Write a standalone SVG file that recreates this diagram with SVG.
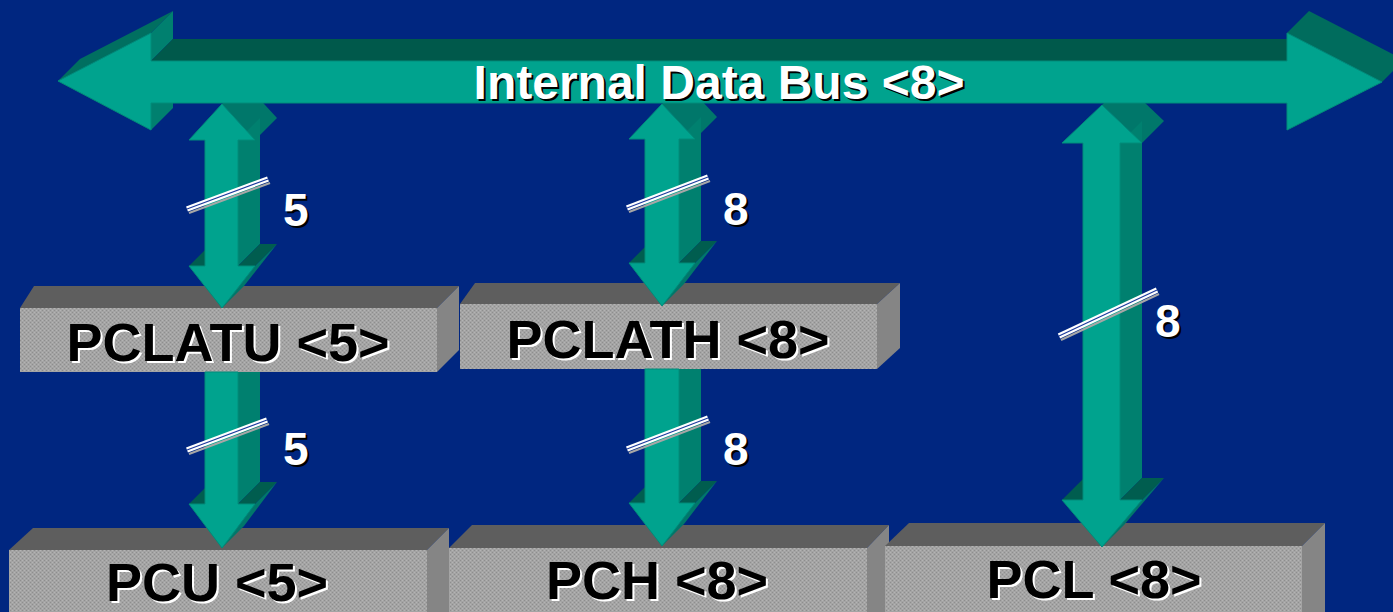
<svg xmlns="http://www.w3.org/2000/svg" width="1393" height="612" viewBox="0 0 1393 612">
  <defs>
    <!-- fine dither texture for the register box fronts -->
    <pattern id="grain" width="4" height="4" patternUnits="userSpaceOnUse">
      <rect width="4" height="4" fill="#a4a4a4"/>
      <rect x="0" y="0" width="1" height="1" fill="#8e8e8e"/>
      <rect x="2" y="2" width="1" height="1" fill="#8e8e8e"/>
      <rect x="2" y="0" width="1" height="1" fill="#b4b4b4"/>
      <rect x="0" y="2" width="1" height="1" fill="#b4b4b4"/>
    </pattern>
    <style>
      .face  { fill: #00a38e; stroke: #008c7a; stroke-width: 1; stroke-linejoin: round; }
      .slant { fill: #00776a; }
      .side  { fill: #00806f; }
      .wing  { fill: #005d4f; }
      .btop  { fill: #00594b; }
      .bfront { fill: url(#grain); }
      .btopf { fill: #5e5e5e; }
      .bside { fill: #858585; }
      .reg   { font-family: "Liberation Sans", Arial, sans-serif; font-weight: bold; font-size: 54px; text-anchor: middle; }
      .reg-sh { fill: #ffffff; }
      .reg-tx { fill: #000000; }
      .lbl   { font-family: "Liberation Sans", Arial, sans-serif; font-weight: bold; font-size: 46px; }
      .bus   { font-family: "Liberation Sans", Arial, sans-serif; font-weight: bold; font-size: 48px; text-anchor: middle; }
      .sh    { fill: #000000; }
      .tx    { fill: #ffffff; }
      .sl-g  { stroke: #a6a6a6; stroke-width: 2.2; }
      .sl-w  { stroke: #ffffff; stroke-width: 5.5; }
      .sl-b  { stroke: #1c3a9c; stroke-width: 1.2; }
    </style>
  </defs>

  <rect width="1393" height="612" fill="#002680"/>

  <!-- register boxes -->
  <g id="pcu">
    <polygon class="btopf" points="9,550 427,550 449,528 33,528"/>
    <polygon class="bside" points="427,550 449,528 449,612 427,612"/>
    <rect class="bfront" x="9" y="550" width="418" height="62"/>
    <text class="reg reg-sh" x="219" y="603">PCU &lt;5&gt;</text>
    <text class="reg reg-tx" x="217" y="601">PCU &lt;5&gt;</text>
  </g>
  <g id="pch">
    <polygon class="btopf" points="449,548 867,548 889,525 472,525"/>
    <polygon class="bside" points="867,548 889,525 889,612 867,612"/>
    <rect class="bfront" x="449" y="548" width="418" height="64"/>
    <text class="reg reg-sh" x="659" y="601">PCH &lt;8&gt;</text>
    <text class="reg reg-tx" x="657" y="599">PCH &lt;8&gt;</text>
  </g>
  <g id="pcl">
    <polygon class="btopf" points="885,546 1302,546 1325,523 909,523"/>
    <polygon class="bside" points="1302,546 1325,523 1325,612 1302,612"/>
    <rect class="bfront" x="885" y="546" width="417" height="66"/>
    <text class="reg reg-sh" x="1096" y="600">PCL &lt;8&gt;</text>
    <text class="reg reg-tx" x="1094" y="598">PCL &lt;8&gt;</text>
  </g>
  <g id="pclatu">
    <polygon class="btopf" points="20,308 437,308 459,286 34,286"/>
    <polygon class="bside" points="437,308 459,286 459,350 437,372"/>
    <rect class="bfront" x="20" y="308" width="417" height="64"/>
    <text class="reg reg-sh" x="230" y="363">PCLATU &lt;5&gt;</text>
    <text class="reg reg-tx" x="228" y="361">PCLATU &lt;5&gt;</text>
  </g>
  <g id="pclath">
    <polygon class="btopf" points="460,304 877,304 900,283 475,283"/>
    <polygon class="bside" points="877,304 900,283 900,348 877,369"/>
    <rect class="bfront" x="460" y="304" width="417" height="65"/>
    <text class="reg reg-sh" x="670" y="360">PCLATH &lt;8&gt;</text>
    <text class="reg reg-tx" x="668" y="358">PCLATH &lt;8&gt;</text>
  </g>

  <!-- connectors: extruded block arrows with bus-width marks -->
  <g id="connectors">
    <!-- PCLATU to PCU -->
    <g id="c-pclatu-pcu">
      <polygon class="side" points="238,372 238,504 260,482 260,372"/>
      <polygon class="wing" points="238,504 255,504 277,482 260,482"/>
      <polygon class="slant" points="255,504 222,548 244,526 277,482"/>
      <polygon class="wing" points="189,504 205,504 227,482 211,482"/>
      <path class="face" d="M205,372 L238,372 L238,504 L255,504 L222,548 L189,504 L205,504 Z"/>
    </g>
    <!-- PCLATH to PCH -->
    <g id="c-pclath-pch">
      <polygon class="side" points="679,369 679,503 701,481 701,369"/>
      <polygon class="wing" points="679,503 695,503 717,481 701,481"/>
      <polygon class="slant" points="695,503 662,546 684,524 717,481"/>
      <polygon class="wing" points="629,503 645,503 667,481 651,481"/>
      <path class="face" d="M645,369 L679,369 L679,503 L695,503 L662,546 L629,503 L645,503 Z"/>
    </g>
    <!-- bus to PCLATU -->
    <g id="c-bus-pclatu">
      <polygon class="slant" points="222,104 255,140 277,118 244,82"/>
      <polygon class="side" points="238,140 238,266 260,244 260,118"/>
      <polygon class="wing" points="238,266 255,266 277,244 260,244"/>
      <polygon class="slant" points="255,266 222,308 244,286 277,244"/>
      <polygon class="wing" points="189,266 205,266 227,244 211,244"/>
      <path class="face" d="M222,104 L255,140 L238,140 L238,266 L255,266 L222,308 L189,266 L205,266 L205,140 L189,140 Z"/>
    </g>
    <!-- bus to PCLATH -->
    <g id="c-bus-pclath">
      <polygon class="slant" points="662,104 695,139 717,117 684,82"/>
      <polygon class="side" points="679,139 679,263 701,241 701,117"/>
      <polygon class="wing" points="679,263 695,263 717,241 701,241"/>
      <polygon class="slant" points="695,263 662,306 684,284 717,241"/>
      <polygon class="wing" points="629,263 645,263 667,241 651,241"/>
      <path class="face" d="M662,104 L695,139 L679,139 L679,263 L695,263 L662,306 L629,263 L645,263 L645,139 L629,139 Z"/>
    </g>
    <!-- bus to PCL -->
    <g id="c-bus-pcl">
      <polygon class="slant" points="1102,105 1142,143 1164,121 1124,83"/>
      <polygon class="side" points="1120,143 1120,500 1142,478 1142,121"/>
      <polygon class="wing" points="1120,500 1142,500 1164,478 1142,478"/>
      <polygon class="slant" points="1142,500 1102,547 1124,525 1164,478"/>
      <polygon class="wing" points="1062,500 1083,500 1105,478 1084,478"/>
      <path class="face" d="M1102,105 L1142,143 L1120,143 L1120,500 L1142,500 L1102,547 L1062,500 L1083,500 L1083,143 L1062,143 Z"/>
    </g>

    <!-- width marks -->
    <g id="marks">
      <line class="sl-g" x1="189" y1="213" x2="270" y2="183"/>
      <line class="sl-w" x1="187" y1="209" x2="268" y2="179"/>
      <line class="sl-b" x1="187" y1="209" x2="268" y2="179"/>

      <line class="sl-g" x1="629" y1="212" x2="710" y2="181"/>
      <line class="sl-w" x1="627" y1="208" x2="708" y2="177"/>
      <line class="sl-b" x1="627" y1="208" x2="708" y2="177"/>

      <line class="sl-g" x1="1061" y1="340" x2="1159" y2="294"/>
      <line class="sl-w" x1="1059" y1="336" x2="1157" y2="290"/>
      <line class="sl-b" x1="1059" y1="336" x2="1157" y2="290"/>

      <line class="sl-g" x1="189" y1="454" x2="269" y2="424"/>
      <line class="sl-w" x1="187" y1="450" x2="267" y2="420"/>
      <line class="sl-b" x1="187" y1="450" x2="267" y2="420"/>

      <line class="sl-g" x1="629" y1="453" x2="710" y2="422"/>
      <line class="sl-w" x1="627" y1="449" x2="708" y2="418"/>
      <line class="sl-b" x1="627" y1="449" x2="708" y2="418"/>
    </g>
    <g id="widths">
      <text class="lbl sh" x="285" y="228">5</text>
      <text class="lbl tx" x="283" y="226">5</text>
      <text class="lbl sh" x="725" y="227">8</text>
      <text class="lbl tx" x="723" y="225">8</text>
      <text class="lbl sh" x="1157" y="339">8</text>
      <text class="lbl tx" x="1155" y="337">8</text>
      <text class="lbl sh" x="285" y="467">5</text>
      <text class="lbl tx" x="283" y="465">5</text>
      <text class="lbl sh" x="725" y="467">8</text>
      <text class="lbl tx" x="723" y="465">8</text>
    </g>
  </g>

  <!-- internal data bus: double-headed extruded arrow -->
  <g id="data-bus">
    <polygon fill="#006f60" points="58,81 151,33 173,11 80,59"/>
    <polygon class="side" points="151,33 173,11 173,39 151,61"/>
    <polygon class="btop" points="151,61 1287,61 1309,39 173,39"/>
    <polygon class="side" points="151,103 151,130 173,108 173,81"/>
    <polygon fill="#006c5d" points="1287,33 1382,82 1404,60 1309,11"/>
    <path class="face" d="M58,81 L151,33 L151,61 L1287,61 L1287,33 L1382,82 L1287,130 L1287,103 L151,103 L151,130 Z"/>
    <text class="bus sh" x="721" y="101">Internal Data Bus &lt;8&gt;</text>
    <text class="bus tx" x="719" y="99">Internal Data Bus &lt;8&gt;</text>
  </g>
</svg>
